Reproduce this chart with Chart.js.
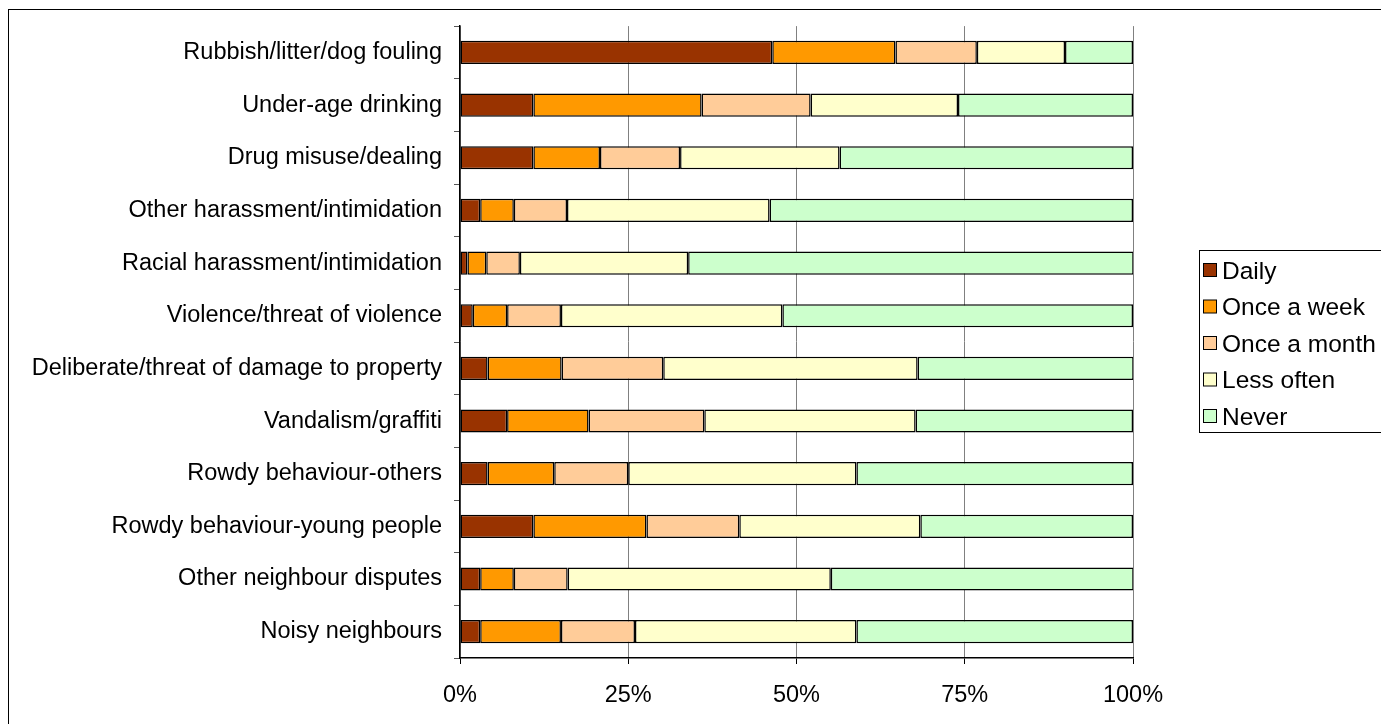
<!DOCTYPE html>
<html>
<head>
<meta charset="utf-8">
<script src="https://cdn.jsdelivr.net/npm/chart.js@4"></script>
<style>
  html, body { margin: 0; padding: 0; background: #fff; }
  #wrap { width: 1381px; height: 724px; position: relative; }
</style>
</head>
<body>
<div id="wrap"><canvas id="grafico"></canvas></div>
<script>
// categorias (de cima para baixo)
const categorias = [
  "Rubbish/litter/dog fouling",
  "Under-age drinking",
  "Drug misuse/dealing",
  "Other harassment/intimidation",
  "Racial harassment/intimidation",
  "Violence/threat of violence",
  "Deliberate/threat of damage to property",
  "Vandalism/graffiti",
  "Rowdy behaviour-others",
  "Rowdy behaviour-young people",
  "Other neighbour disputes",
  "Noisy neighbours"
];

// séries (%)
const diario     = [46.4, 10.9, 10.9, 3.0, 1.1, 1.9, 4.1, 7.0, 4.1, 10.9, 3.0, 3.0];
const semanal    = [18.3, 25.0,  9.9, 5.0, 2.8, 5.1, 11.0, 12.1, 9.9, 16.8, 5.0, 12.0];
const mensal     = [12.1, 16.2, 11.9, 7.9, 5.0, 8.0, 15.1, 17.2, 11.0, 13.8, 8.0, 11.0];
const menosVezes = [13.1, 21.9, 23.7, 30.1, 25.0, 32.9, 37.8, 31.4, 33.9, 26.9, 39.1, 32.9];
const nunca      = [10.1, 26.0, 43.6, 54.0, 66.2, 52.1, 32.1, 32.3, 41.1, 31.6, 45.0, 41.1];

const ticksX = [0, 25, 50, 75, 100];

const series = [
  { label: "Daily",        data: diario,     cor: "#993300" },
  { label: "Once a week",  data: semanal,    cor: "#FF9900" },
  { label: "Once a month", data: mensal,     cor: "#FFCC99" },
  { label: "Less often",   data: menosVezes, cor: "#FFFFCC" },
  { label: "Never",        data: nunca,      cor: "#CCFFCC" }
];

const FONTE = "'Liberation Sans', Arial, sans-serif";

// moldura + legenda desenhadas à mão (estilo Excel)
const molduraPlugin = {
  id: "moldura",
  beforeDraw(chart) {
    const c = chart.ctx;
    c.save();
    c.fillStyle = "#fff";
    c.fillRect(0, 0, chart.width, chart.height);
    c.strokeStyle = "#000";
    c.lineWidth = 1;
    c.strokeRect(8.5, 9.5, 1400, 800);
    c.restore();
  },
  afterDraw(chart) {
    const c = chart.ctx;
    c.save();
    c.strokeStyle = "#000";
    c.lineWidth = 1;
    c.fillStyle = "#fff";
    c.fillRect(1199.5, 250.5, 300, 182);
    c.strokeRect(1199.5, 250.5, 300, 182);
    c.font = "24.5px " + FONTE;
    c.textBaseline = "middle";
    chart.data.datasets.forEach((ds, i) => {
      const y = 271 + i * 36.5;
      c.fillStyle = ds.backgroundColor;
      c.fillRect(1203.5, y - 7.5, 13, 13);
      c.strokeRect(1203.5, y - 7.5, 13, 13);
      c.fillStyle = "#000";
      c.fillText(ds.label, 1222, y + 1);
    });
    c.restore();
  }
};

new Chart(document.getElementById("grafico"), {
  type: "bar",
  data: {
    labels: categorias,
    datasets: series.map(s => ({
      label: s.label,
      data: s.data,
      backgroundColor: s.cor,
      borderColor: "#000",
      borderWidth: 1.5,
      borderSkipped: false,
      barPercentage: 0.44,
      categoryPercentage: 1.0
    }))
  },
  options: {
    indexAxis: "y",
    responsive: true,
    maintainAspectRatio: false,
    animation: false,
    layout: { padding: { left: 0, top: 26, right: 248, bottom: 0 } },
    plugins: {
      legend: { display: false },
      tooltip: { enabled: false }
    },
    scales: {
      x: {
        stacked: true,
        min: 0,
        max: 100,
        afterBuildTicks(scale) { scale.ticks = ticksX.map(v => ({ value: v })); },
        afterFit(scale) { scale.height = 66; },
        ticks: {
          callback: v => v + "%",
          color: "#000",
          font: { family: FONTE, size: 23.5 },
          padding: 17,
          maxRotation: 0
        },
        grid: { color: "#808080", lineWidth: 1, tickColor: "#000", tickLength: 6 },
        border: { color: "#000", width: 1.5 }
      },
      y: {
        stacked: true,
        afterFit(scale) { scale.width = 460; },
        ticks: {
          color: "#000",
          font: { family: FONTE, size: 23.5 },
          padding: 12
        },
        grid: { drawOnChartArea: false, offset: true, tickColor: "#555", tickLength: 6 },
        border: { color: "#000", width: 1.5 }
      }
    }
  },
  plugins: [molduraPlugin]
});
</script>
</body>
</html>
